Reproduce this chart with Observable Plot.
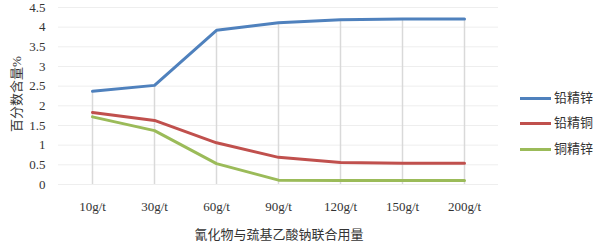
<!DOCTYPE html>
<html><head><meta charset="utf-8">
<script src="https://cdn.jsdelivr.net/npm/d3@7"></script>
<script src="https://cdn.jsdelivr.net/npm/@observablehq/plot@0.6"></script>
<style>
body{margin:0;background:#fff;}
#wrap{position:relative;width:595px;height:244px;font-family:"Liberation Serif","Noto Sans CJK SC",serif;color:#333;}
#wrap svg{display:block;}
.leg{position:absolute;left:520px;font-size:13px;line-height:16px;display:flex;align-items:center;height:16px;}
.leg .sw{display:inline-block;width:31px;height:3px;margin-right:3px;}
.ytitle{position:absolute;left:15px;top:94px;font-size:13px;white-space:nowrap;transform:translate(-50%,-50%) rotate(-90deg);}
.xtitle{position:absolute;left:279px;top:233px;font-size:13px;white-space:nowrap;transform:translate(-50%,-50%);}
</style></head><body><div id="wrap"></div>
<script>
const doses = ["10g/t","30g/t","60g/t","90g/t","120g/t","150g/t","200g/t"];
const seriesNames = ["铅精锌","铅精铜","铜精锌"];
const pbZn = [2.37,2.52,3.92,4.11,4.19,4.21,4.21];
const pbCu = [1.83,1.63,1.06,0.69,0.56,0.54,0.54];
const cuZn = [1.72,1.37,0.53,0.11,0.10,0.10,0.10];
const yTicks = [0,0.5,1,1.5,2,2.5,3,3.5,4,4.5];
const colors = ["#4F81BD","#C0504D","#9BBB59"];
const xTitle = "氰化物与巯基乙酸钠联合用量";
const yTitle = "百分数含量%";

const seriesValues = [pbZn, pbCu, cuZn];
const long = [];
seriesNames.forEach((s, k) => doses.forEach((d, i) => long.push({series: s, dose: d, value: seriesValues[k][i]})));
const table = doses.map((d, i) => ({dose: d, top: Math.max(pbZn[i], pbCu[i], cuZn[i])}));

const FF = '"Liberation Serif","Noto Sans CJK SC",serif';
const chart = Plot.plot({
  width: 595, height: 244,
  marginLeft: 58, marginRight: 97, marginTop: 7, marginBottom: 60,
  x: {domain: doses, type: "point", padding: 0.5},
  y: {domain: [0, 4.5]},
  color: {domain: seriesNames, range: colors},
  style: "font-family:" + FF + ";font-size:13px;color:#333;background:#fff;",
  marks: [
    Plot.gridY(yTicks, {stroke: "#eeeeee", strokeOpacity: 1}),
    Plot.ruleX(table, {x: "dose", y1: 0, y2: "top", stroke: "#d9d9d9", strokeWidth: 1.5}),
    Plot.line(long, {x: "dose", y: "value", z: "series", stroke: "series", strokeWidth: 3}),
    Plot.axisY(yTicks, {tickSize: 0, tickPadding: 13, label: null, tickFormat: d => String(d), fontSize: 13, fontFamily: FF, fill: "#333"}),
    Plot.axisX({tickSize: 0, tickPadding: 17, label: null, fontSize: 13, fontFamily: FF, fill: "#333"})
  ]
});
const wrap = document.getElementById("wrap");
wrap.appendChild(chart);

const yt = document.createElement("div"); yt.className = "ytitle"; yt.textContent = yTitle; wrap.appendChild(yt);
const xt = document.createElement("div"); xt.className = "xtitle"; xt.textContent = xTitle; wrap.appendChild(xt);
const legTops = [90, 115, 141];
seriesNames.forEach((s, k) => {
  const el = document.createElement("div");
  el.className = "leg";
  el.style.top = legTops[k] + "px";
  el.innerHTML = `<span class="sw" style="background:${colors[k]}"></span><span>${s}</span>`;
  wrap.appendChild(el);
});
</script></body></html>
